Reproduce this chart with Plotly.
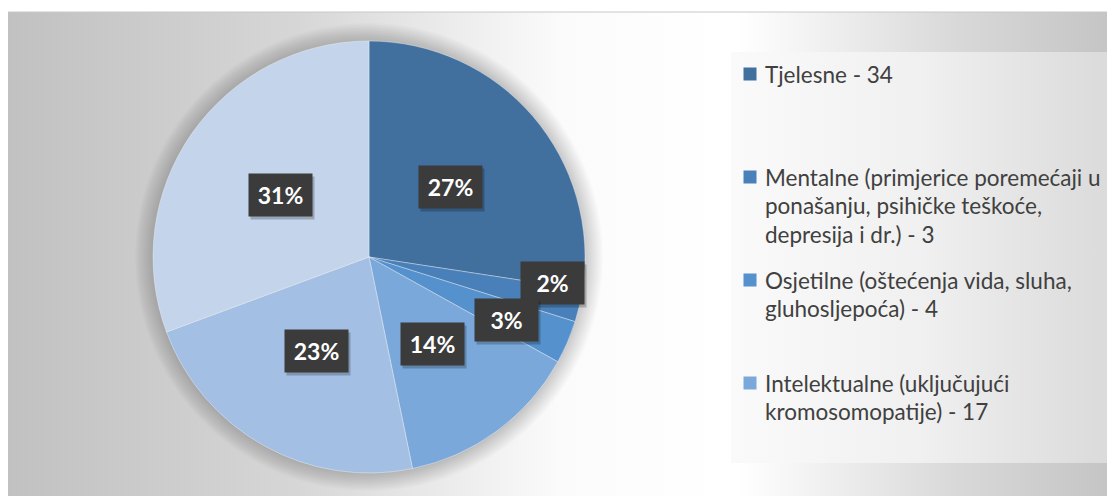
import numpy as np
import plotly.graph_objects as go

# ---- data ----
categories = [
    "Tjelesne",
    "Mentalne (primjerice poremećaji u ponašanju, psihičke teškoće, depresija i dr.)",
    "Osjetilne (oštećenja vida, sluha, gluhosljepoća)",
    "Intelektualne (uključujući kromosomopatije)",
    "Višestruke",
    "Ostale",
]
values = [34, 3, 4, 17, 28, 38]
legend_lines = [
    ["Tjelesne - 34"],
    ["Mentalne (primjerice poremećaji u", "ponašanju, psihičke teškoće,", "depresija i dr.) - 3"],
    ["Osjetilne (oštećenja vida, sluha,", "gluhosljepoća) - 4"],
    ["Intelektualne (uključujući", "kromosomopatije) - 17"],
]
colors = ["#41709f", "#4a80b9", "#5591cc", "#7ba8da", "#a3bfe3", "#c3d4eb"]

# ---- layout constants (window pixels; page body has an 8px margin) ----
WIN_W, WIN_H = 1115, 496
OFF = 8
W, H = WIN_W - OFF, WIN_H - OFF
CX, CY, R = 369, 257, 216
label_r = [0.5, 0.86, 0.70, 0.5, 0.5, 0.5]
label_dang = [0, -5, 1.5, 0, 0, 0]

fig = go.Figure()

# chart area background (gray-white-gray gradient)
fig.add_trace(go.Scatter(
    x=[7, 1115, 1115, 7, 7], y=[12, 12, 497, 497, 12], mode="lines",
    line=dict(color="#c8c8c8", width=1), fill="toself",
    fillgradient=dict(type="horizontal", start=7, stop=1115,
                      colorscale=[[0, "#c1c1c1"], [0.26, "#d6d6d6"], [0.5, "#fbfbfb"],
                                  [0.66, "#ffffff"], [0.86, "#d8d8d8"], [1, "#c4c4c4"]]),
    hoverinfo="skip", showlegend=False))

# pie soft shadow
t = np.linspace(0, 2 * np.pi, 240)
for k in range(12, 0, -1):
    rr = R + k * 1.5
    fig.add_trace(go.Scatter(
        x=CX + rr * np.cos(t), y=CY + rr * np.sin(t), mode="lines",
        line=dict(width=0), fill="toself", fillcolor="rgba(0,0,0,0.017)",
        hoverinfo="skip", showlegend=False))

# legend box
fig.add_trace(go.Scatter(
    x=[731, 1113, 1113, 731, 731], y=[52, 52, 463, 463, 52], mode="lines",
    line=dict(width=0), fill="toself",
    fillgradient=dict(type="horizontal", start=731, stop=1113,
                      colorscale=[[0, "#fafafa"], [0.5, "#f0f0f0"], [1, "#dadada"]]),
    hoverinfo="skip", showlegend=False))

# legend squares
n_leg = len(legend_lines)
leg_y = [74 + i * 103 for i in range(n_leg)]
fig.add_trace(go.Scatter(
    x=[750] * n_leg, y=leg_y, mode="markers",
    marker=dict(symbol="square", size=13, color=colors[:n_leg], line=dict(width=0)),
    hoverinfo="skip", showlegend=False))

# pie
fig.add_trace(go.Pie(
    labels=categories, values=values, sort=False, direction="clockwise", rotation=0,
    marker=dict(colors=colors, line=dict(color="rgba(255,255,255,0.6)", width=0.6)),
    textinfo="none", showlegend=False,
    domain=dict(x=[(CX - R - OFF) / W, (CX + R - OFF) / W],
                y=[1 - (CY + R - OFF) / H, 1 - (CY - R - OFF) / H]),
))

annotations = []
# legend text
for i, lines in enumerate(legend_lines):
    for j, ln in enumerate(lines):
        annotations.append(dict(
            x=763, y=leg_y[i] + j * 28.5, xref="x", yref="y", text=ln, showarrow=False,
            xanchor="left", yanchor="middle",
            font=dict(family="Lato", size=22.5, color="#404040")))

# data labels
total = sum(values)
cum = 0
for i, v in enumerate(values):
    frac = v / total
    ang = 2 * np.pi * (cum + frac / 2) + np.radians(label_dang[i])
    cum += frac
    rr = R * label_r[i]
    lx, ly = CX + rr * np.sin(ang), CY - rr * np.cos(ang)
    pct = f"{round(frac * 100)}%"
    annotations.append(dict(
        x=lx + 2, y=ly + 3, xref="x", yref="y", text=" ", showarrow=False,
        width=63, height=42, bgcolor="rgba(0,0,0,0.22)", borderpad=0,
        font=dict(size=10)))
    annotations.append(dict(
        x=lx, y=ly, xref="x", yref="y", text=f"<b>{pct}</b>", showarrow=False,
        width=63, height=42, bgcolor="#3b3b3b", borderpad=0,
        font=dict(family="Lato", size=23, color="#ffffff")))

fig.update_layout(
    width=W, height=H, margin=dict(l=0, r=0, t=0, b=0),
    paper_bgcolor="#ffffff", plot_bgcolor="#ffffff",
    xaxis=dict(range=[OFF, WIN_W], visible=False, fixedrange=True, domain=[0, 1]),
    yaxis=dict(range=[WIN_H, OFF], visible=False, fixedrange=True, domain=[0, 1]),
    annotations=annotations, showlegend=False,
)

fig.write_html("out.html")
